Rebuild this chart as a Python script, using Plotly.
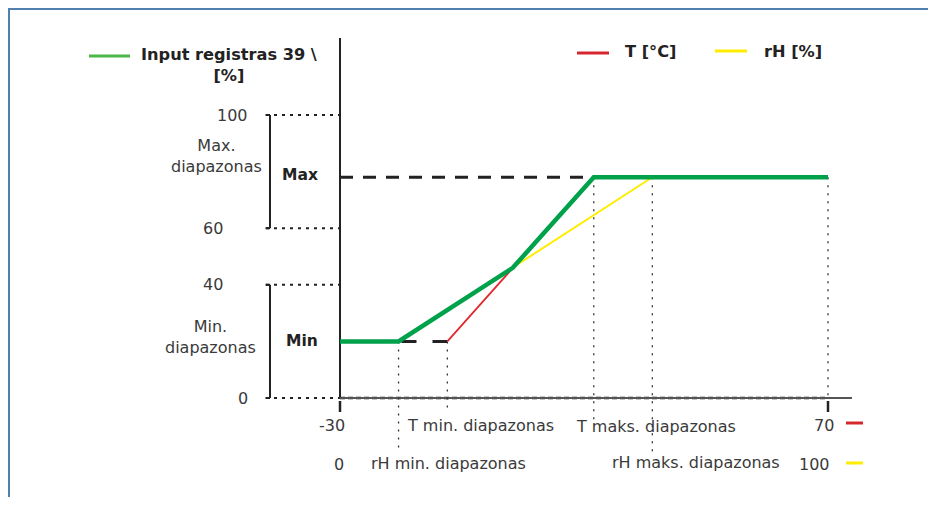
import plotly.graph_objects as go

# ---------------- data ----------------
t_axis_vals = [-30, 70]          # T axis ends [°C]
t_axis_labels = ["-30", "70"]
rh_axis_vals = [0, 100]          # rH axis ends [%]
rh_axis_labels = ["0", "100"]
y_tick_vals = [100, 60, 40, 0]   # output [%]
y_tick_labels = ["100", "60", "40", "0"]
out_min = 20
out_max = 78
t_min = -8
t_max = 22
rh_min = 12
rh_max = 64
green_x_t = [-30, -18, 5.4, 22, 70]
green_y = [20, 20, 46, 78, 78]
red_x_t = [-8, 22]
red_y = [20, 78]
yellow_x_rh = [12, 64]
yellow_y = [20, 78]

# ---------------- layout geometry ----------------
W, H = 920, 489
OX, OY = 8, 8
PX_T0, PX_T1 = 340, 828
PY_0, PY_100 = 398, 115
kx = (t_axis_vals[1] - t_axis_vals[0]) / (PX_T1 - PX_T0)
ky = 100 / (PY_0 - PY_100)
x_lo = t_axis_vals[0] - (PX_T0 - OX) * kx
x_hi = x_lo + W * kx
y_hi = 100 + (PY_100 - OY) * ky
y_lo = y_hi - H * ky
s_rh = (rh_axis_vals[1] - rh_axis_vals[0]) / (t_axis_vals[1] - t_axis_vals[0])
rh_lo = rh_axis_vals[0] + (x_lo - t_axis_vals[0]) * s_rh
rh_hi = rh_axis_vals[0] + (x_hi - t_axis_vals[0]) * s_rh


def rh_to_t(rh):
    return t_axis_vals[0] + (rh - rh_axis_vals[0]) / s_rh


def X(px):
    return x_lo + (px - OX) * kx


def Y(py):
    return y_hi - (py - OY) * ky


def PXp(px):
    return (px - OX) / W


def PYp(py):
    return 1 - (py - OY) / H


FONT = "DejaVu Sans"
TXT = "#3a3a3a"
BLK = "#222222"
GREEN = "#00a14b"
RED = "#e3262b"
YEL = "#ffed00"

fig = go.Figure()

# yellow on the rH axis (x, bottom layer); red + green on the T axis (x2, top layer)
fig.add_trace(go.Scatter(x=yellow_x_rh, y=yellow_y, mode="lines", xaxis="x", yaxis="y",
                         line=dict(color=YEL, width=2), hoverinfo="skip"))
fig.add_trace(go.Scatter(x=red_x_t, y=red_y, mode="lines", xaxis="x2", yaxis="y",
                         line=dict(color=RED, width=1.8), hoverinfo="skip"))
fig.add_trace(go.Scatter(x=green_x_t, y=green_y, mode="lines", xaxis="x2", yaxis="y",
                         line=dict(color=GREEN, width=4.5), hoverinfo="skip"))

shapes = []


def line(x0, y0, x1, y1, color=BLK, width=2, dash="solid", xref="x2", yref="y", layer="below"):
    shapes.append(dict(type="line", x0=x0, y0=y0, x1=x1, y1=y1, xref=xref, yref=yref,
                       line=dict(color=color, width=width, dash=dash), layer=layer))


# frame
line(PXp(8), PYp(9), PXp(940), PYp(9), color="#4f81ad", width=2, xref="paper", yref="paper")
line(PXp(9), PYp(8), PXp(9), PYp(510), color="#4f81ad", width=2, xref="paper", yref="paper")

# dotted horizontal guides
for v in y_tick_vals:
    line(X(266), v, t_axis_vals[0], v, width=2, dash="3px,5px")
line(t_axis_vals[0], 0, t_axis_vals[1], 0, color="#111", width=2.5, dash="5px,3px")

# axes
line(t_axis_vals[0], Y(38), t_axis_vals[0], 0, width=2)
line(t_axis_vals[0], 0, X(852), 0, color="#555", width=2)
for v in t_axis_vals:
    line(v, Y(401), v, Y(412), width=2.5)

# brackets
for top, bot in [(100, 60), (40, 0)]:
    line(X(270), top, X(270), bot, width=2)
    line(X(265.5), top, X(270), top, width=2)
    line(X(265.5), bot, X(270), bot, width=2)

# dotted verticals
DV = dict(color="#333", width=1.3, dash="2px,6px")
line(rh_min, out_min, rh_min, Y(453), xref="x", **DV)
line(t_min, out_min, t_min, Y(411), **DV)
line(t_max, out_max, t_max, Y(421), **DV)
line(rh_max, out_max, rh_max, Y(453), xref="x", **DV)
line(t_axis_vals[1], out_max, t_axis_vals[1], 0, **DV)

# dashed max / min levels
line(t_axis_vals[0], out_max, t_max, out_max, width=3, dash="13px,10px")
line(rh_to_t(rh_min) + 0.6, out_min, t_min, out_min, width=3, dash="15px,16px")

# legend lines
line(PXp(89), PYp(56), PXp(130), PYp(56), color="#4cb848", width=3, xref="paper", yref="paper")
line(PXp(577), PYp(53), PXp(609), PYp(53), color="#d7262e", width=3, xref="paper", yref="paper")
line(PXp(715), PYp(51), PXp(747), PYp(51), color=YEL, width=3, xref="paper", yref="paper")
line(PXp(846), PYp(423), PXp(863), PYp(423), color="#d7262e", width=3, xref="paper", yref="paper")
line(PXp(846), PYp(463), PXp(863), PYp(463), color=YEL, width=3, xref="paper", yref="paper")

ann = []
FS = 16


def text(t, px, py, anchor="center", size=FS, color=TXT, align="center"):
    ann.append(dict(text=t, x=PXp(px), y=PYp(py), xref="paper", yref="paper",
                    xanchor=anchor, yanchor="middle", showarrow=False, align=align,
                    font=dict(family=FONT, size=size, color=color)))


text("<b>Input registras 39 \\</b><br><b>[%]</b>", 229, 65, size=16.2, color=BLK)
text("<b>T [°C]</b>", 623, 52, anchor="left", size=16.2, color=BLK)
text("<b>rH [%]</b>", 762, 51, anchor="left", size=16.2, color=BLK)

ylab_px = [250, 225, 225, 250]
for lab, v, px in zip(y_tick_labels, y_tick_vals, ylab_px):
    ann.append(dict(text=lab, x=X(px), y=v, xref="x2", yref="y", xanchor="right",
                    yanchor="middle", showarrow=False,
                    font=dict(family=FONT, size=FS, color=TXT)))

text("Max.<br>diapazonas", 216, 156)
text("Min.<br>diapazonas", 210, 337)
text("<b>Max</b>", 300, 175, size=15.5, color=BLK)
text("<b>Min</b>", 302, 341, size=15.5, color=BLK)

text(t_axis_labels[0], 332, 425)
text("T min. diapazonas", 405, 425, anchor="left")
text("T maks. diapazonas", 574, 426, anchor="left")
text(t_axis_labels[1], 836, 425, anchor="right")
text(rh_axis_labels[0], 339, 464)
text("rH min. diapazonas", 369, 463, anchor="left")
text("rH maks. diapazonas", 610, 462, anchor="left")
text(rh_axis_labels[1], 832, 464, anchor="right")

fig.update_layout(
    width=W, height=H,
    margin=dict(l=0, r=0, t=0, b=0),
    paper_bgcolor="white", plot_bgcolor="white",
    showlegend=False,
    xaxis=dict(range=[rh_lo, rh_hi], visible=False, fixedrange=True),
    xaxis2=dict(range=[x_lo, x_hi], visible=False, overlaying="x", fixedrange=True),
    yaxis=dict(range=[y_lo, y_hi], visible=False, fixedrange=True),
    shapes=shapes, annotations=ann,
)

fig.write_html("out.html")
